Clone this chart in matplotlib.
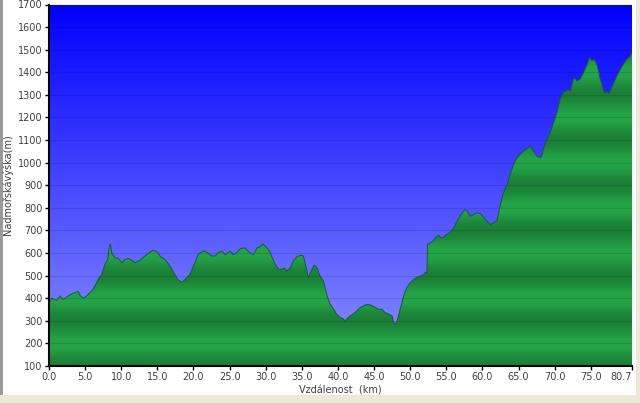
import numpy as np
import matplotlib
matplotlib.use("Agg")
import matplotlib.pyplot as plt
from matplotlib.patches import Polygon, Rectangle

# elevation profile (km, m)
dist_km = [0.0, 0.37, 0.7, 1.06, 1.52, 1.98, 2.45, 2.9, 3.6, 4.06, 4.3, 4.75, 5.2, 5.9,
           6.37, 6.83, 7.3, 7.76, 8.13, 8.36, 8.5, 8.68, 9.14, 9.6, 10.07, 10.5, 11.0,
           11.45, 11.9, 12.6, 13.3, 14.0, 14.45, 15.0, 15.4, 16.1, 16.8, 17.4, 17.9,
           18.4, 18.9, 19.5, 20.1, 20.7, 21.4, 22.0, 22.5, 23.0, 23.4, 23.9, 24.4,
           25.1, 25.5, 26.0, 26.5, 27.1, 27.8, 28.3, 28.8, 29.2, 29.6, 30.0, 30.4,
           30.8, 31.3, 31.8, 32.2, 32.6, 32.9, 33.4, 33.8, 34.3, 34.8, 35.2, 35.5,
           35.9, 36.4, 36.7, 37.1, 37.5, 38.0, 38.5, 38.9, 39.4, 39.8, 40.3, 40.8,
           41.0, 41.2, 41.7, 42.4, 43.1, 43.8, 44.2, 44.9, 45.6, 46.1, 46.5, 47.1,
           47.5, 47.7, 47.9, 48.2, 48.6, 49.1, 49.5, 50.0, 50.7, 51.4, 51.9, 52.1,
           52.3, 52.4, 53.2, 53.5, 53.9, 54.2, 54.6, 55.0, 55.5, 56.0, 56.5, 57.0,
           57.4, 57.6, 57.9, 58.3, 58.8, 59.2, 59.7, 60.2, 60.6, 61.1, 61.5, 62.0,
           62.5, 62.9, 63.4, 63.9, 64.3, 64.8, 65.2, 65.7, 66.2, 66.6, 67.0, 67.5,
           68.0, 68.2, 68.5, 68.9, 69.4, 69.8, 70.3, 70.8, 71.2, 71.7, 72.2, 72.4,
           72.6, 72.8, 73.1, 73.5, 74.0, 74.5, 74.7, 74.9, 75.1, 75.4, 75.6, 75.9,
           76.1, 76.3, 76.6, 76.8, 77.0, 77.2, 77.5, 77.7, 77.9, 78.2, 78.6, 79.1,
           79.5, 80.0, 80.4, 80.6, 80.7]
elev_m = [375, 400, 395, 390, 410, 395, 405, 415, 425, 430, 412, 400, 410, 432,
          454, 484, 506, 550, 572, 631, 640, 601, 579, 576, 557, 572, 576,
          568, 557, 568, 587, 605, 612, 605, 585, 570, 540, 505, 480,
          470, 485, 505, 550, 595, 610, 601, 587, 587, 601, 609, 593,
          609, 593, 601, 620, 623, 601, 593, 623, 628, 640, 628, 616,
          587, 550, 528, 528, 535, 520, 535, 565, 582, 590, 587, 550,
          490, 528, 547, 535, 498, 476, 410, 374, 352, 330, 315, 308,
          293, 308, 322, 337, 359, 370, 373, 364, 351, 351, 337, 329,
          322, 293, 285, 300, 351, 410, 447, 469, 488, 498, 506, 515,
          509, 638, 653, 668, 679, 668, 668, 682, 690, 710, 741, 770,
          785, 793, 785, 763, 770, 778, 775, 756, 741, 726, 734, 745,
          815, 866, 903, 955, 992, 1022, 1036, 1051, 1063, 1073, 1055, 1029,
          1022, 1029, 1066, 1100, 1135, 1175, 1220, 1288, 1310, 1321, 1321, 1347,
          1370, 1373, 1362, 1370, 1399, 1436, 1456, 1466, 1452, 1456, 1451, 1429,
          1399, 1370, 1340, 1318, 1306, 1315, 1306, 1318, 1333, 1355, 1384, 1414,
          1436, 1459, 1469, 1484, 1480]

x_ticks = [0.0, 5.0, 10.0, 15.0, 20.0, 25.0, 30.0, 35.0, 40.0, 45.0, 50.0,
           55.0, 60.0, 65.0, 70.0, 75.0, 80.7]
y_ticks = list(range(100, 1701, 100))

x_max = 80.7
y_min, y_max = 100, 1700

fig = plt.figure(figsize=(6.4, 4.03), dpi=100, facecolor="white")
ax = fig.add_axes([49 / 640, 1 - 366 / 403, 583 / 640, 361.5 / 403])
ax.set_xlim(0, x_max)
ax.set_ylim(y_min, y_max)

# sky: blue gradient, darker at the top
t = np.linspace(0, 1, 256)[:, None]
top = np.array([0, 0, 255]) / 255
bot = np.array([140, 145, 255]) / 255
sky = top + (bot - top) * t
ax.imshow(sky[:, None, :].repeat(2, axis=1), extent=[0, x_max, y_min, y_max],
          aspect="auto", origin="upper", zorder=0, interpolation="bilinear")

# ground: green bands, period 200 m
hh = np.linspace(y_min, y_max, 1600)
shade = 0.5 - 0.5 * np.cos(2 * np.pi * (hh - 200) / 200)
light = np.array([36, 166, 72]) / 255
dark = np.array([26, 128, 54]) / 255
green = light + (dark - light) * shade[:, None]
im = ax.imshow(green[:, None, :].repeat(2, axis=1), extent=[0, x_max, y_min, y_max],
               aspect="auto", origin="lower", zorder=1, interpolation="bilinear")
verts = [(0, y_min)] + list(zip(dist_km, elev_m)) + [(x_max, y_min)]
poly = Polygon(verts, closed=True, facecolor="none", edgecolor="none",
               transform=ax.transData)
ax.add_patch(poly)
im.set_clip_path(poly)
ax.plot(dist_km, elev_m, color="#1a5a30", lw=0.7, zorder=3)

# horizontal grid lines
for yv in y_ticks:
    ax.axhline(yv, color="black", alpha=0.12, lw=0.8, zorder=2)

ax.set_xticks(x_ticks)
ax.set_xticklabels([f"{v:.1f}" for v in x_ticks])
ax.get_xticklabels()[-1].set_ha("right")
ax.get_xticklabels()[-1].set_x(x_max)
ax.set_yticks(y_ticks)
ax.tick_params(axis="both", labelsize=7, labelcolor="#404040", length=3,
               width=1, color="black", pad=1.5)
for side in ["top", "right"]:
    ax.spines[side].set_visible(False)
for side in ["left", "bottom"]:
    ax.spines[side].set_linewidth(1.5)
    ax.spines[side].set_zorder(5)

ax.set_xlabel("Vzdálenost  (km)", fontsize=7, color="#404040", labelpad=2)
fig.text(8 / 640, 1 - 185 / 403, "Nadmořskávýška(m)", rotation=90, fontsize=7,
         color="#404040", ha="center", va="center")

# window frame
fig.patches.append(Rectangle((0, 0), 2.5 / 640, 1, transform=fig.transFigure,
                             facecolor="#9a9a9a", edgecolor="none"))
fig.patches.append(Rectangle((0, 0), 1, 8 / 403, transform=fig.transFigure,
                             facecolor="#ece9d8", edgecolor="none"))
fig.patches.append(Rectangle((636 / 640, 0), 4 / 640, 1, transform=fig.transFigure,
                             facecolor="#ece9d8", edgecolor="none"))

fig.savefig("out.png", dpi=100)
